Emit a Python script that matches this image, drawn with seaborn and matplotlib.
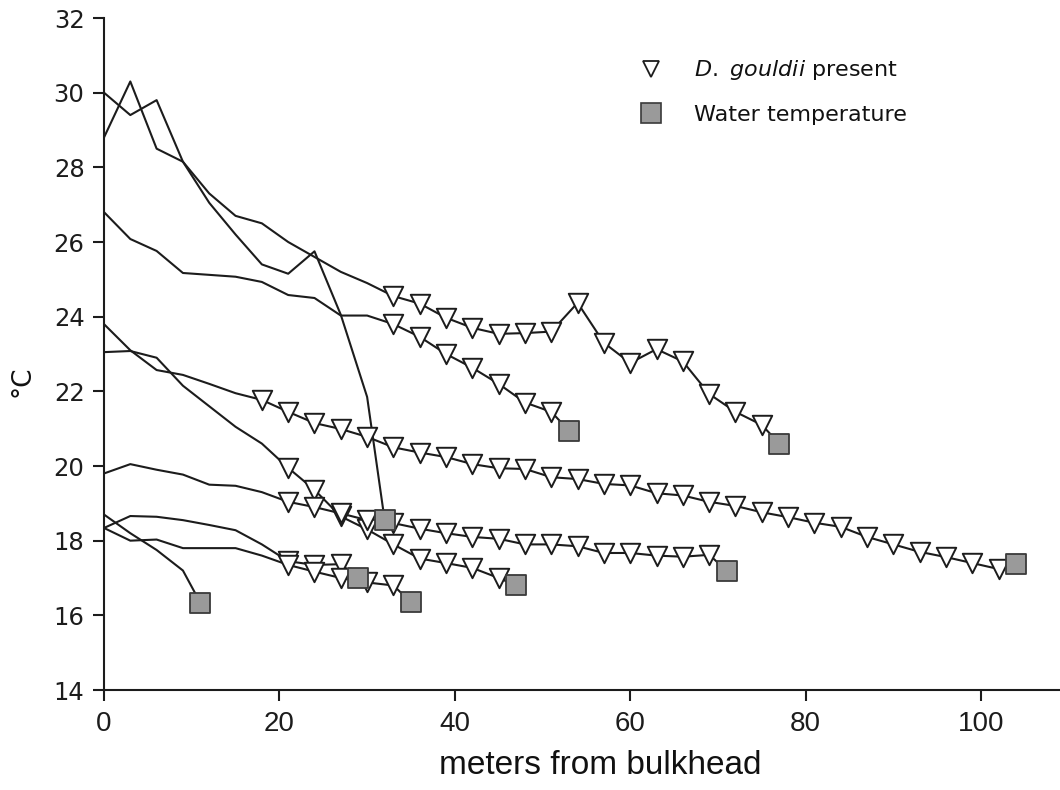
import numpy as np
import pandas as pd
import matplotlib
matplotlib.use("Agg")
import matplotlib.pyplot as plt
from matplotlib.lines import Line2D
import seaborn as sns

# Temperature profiles along transects (distance from bulkhead in m, temperature in °C).
# The last point of every transect is the water temperature reading.
dist_a = [0, 3, 6, 9, 12, 15, 18, 21, 24, 27, 30, 32]
temp_a = [30.0, 29.4, 29.8, 28.15, 27.05, 26.2, 25.4, 25.15, 25.75, 24.05, 21.85, 18.55]

dist_b = [0, 3, 6, 9, 12, 15, 18, 21, 24, 27, 30, 33, 36, 39, 42, 45, 48, 51, 54,
          57, 60, 63, 66, 69, 72, 75, 77]
temp_b = [28.8, 30.3, 28.5, 28.15, 27.3, 26.7, 26.5, 26.0, 25.6, 25.2, 24.9, 24.55,
          24.35, 23.97, 23.7, 23.54, 23.56, 23.6, 24.37, 23.3, 22.76, 23.13, 22.8,
          21.93, 21.45, 21.1, 20.6]

dist_c = [0, 3, 6, 9, 12, 15, 18, 21, 24, 27, 30, 33, 36, 39, 42, 45, 48, 51, 53]
temp_c = [26.8, 26.08, 25.76, 25.17, 25.12, 25.07, 24.93, 24.58, 24.5, 24.03, 24.03,
          23.8, 23.46, 23.0, 22.63, 22.2, 21.7, 21.45, 20.95]

dist_d = [0, 3, 6, 9, 12, 15, 18, 21, 24, 27, 30, 33, 36, 39, 42, 45, 47]
temp_d = [23.05, 23.08, 22.9, 22.15, 21.6, 21.05, 20.6, 19.95, 19.36, 18.65, 18.3,
          17.9, 17.52, 17.4, 17.27, 17.0, 16.8]

dist_e = [0, 3, 6, 9, 12, 15, 18, 21, 24, 27, 30, 33, 36, 39, 42, 45, 48, 51, 54,
          57, 60, 63, 66, 69, 72, 75, 78, 81, 84, 87, 90, 93, 96, 99, 102, 104]
temp_e = [23.8, 23.1, 22.57, 22.44, 22.2, 21.95, 21.77, 21.45, 21.15, 20.99, 20.78,
          20.5, 20.36, 20.24, 20.05, 19.94, 19.92, 19.7, 19.65, 19.52, 19.48, 19.27,
          19.21, 19.04, 18.93, 18.76, 18.63, 18.48, 18.37, 18.1, 17.9, 17.7, 17.56,
          17.4, 17.24, 17.37]

dist_f = [0, 3, 6, 9, 12, 15, 18, 21, 24, 27, 30, 33, 36, 39, 42, 45, 48, 51, 54,
          57, 60, 63, 66, 69, 71]
temp_f = [19.8, 20.05, 19.9, 19.77, 19.5, 19.47, 19.3, 19.04, 18.9, 18.73, 18.55,
          18.47, 18.32, 18.2, 18.1, 18.05, 17.9, 17.9, 17.85, 17.67, 17.67, 17.6,
          17.57, 17.62, 17.2]

dist_g = [0, 3, 6, 9, 11]
temp_g = [18.7, 18.2, 17.75, 17.2, 16.33]

dist_h = [0, 3, 6, 9, 12, 15, 18, 21, 24, 27, 29]
temp_h = [18.34, 18.66, 18.64, 18.55, 18.42, 18.28, 17.9, 17.45, 17.35, 17.37, 17.0]

dist_i = [0, 3, 6, 9, 12, 15, 18, 21, 24, 27, 30, 33, 35]
temp_i = [18.34, 18.0, 18.03, 17.8, 17.8, 17.8, 17.6, 17.35, 17.17, 17.0, 16.88, 16.8, 16.35]

# First distance at which D. gouldii was found on each transect (None = never)
present_from = {"A": None, "B": 33, "C": 33, "D": 21, "E": 18,
                "F": 21, "G": None, "H": 21, "I": 21}

transects = {
    "A": (dist_a, temp_a), "B": (dist_b, temp_b), "C": (dist_c, temp_c),
    "D": (dist_d, temp_d), "E": (dist_e, temp_e), "F": (dist_f, temp_f),
    "G": (dist_g, temp_g), "H": (dist_h, temp_h), "I": (dist_i, temp_i),
}

x_ticks = [0, 20, 40, 60, 80, 100]
y_ticks = [14, 16, 18, 20, 22, 24, 26, 28, 30, 32]

rows = []
for name, (d, t) in transects.items():
    start = present_from[name]
    n = len(d)
    for k, (xv, yv) in enumerate(zip(d, t)):
        if k == n - 1:
            kind = "water"
        elif start is not None and xv >= start:
            kind = "present"
        else:
            kind = "none"
        rows.append({"transect": name, "dist": xv, "temp": yv, "kind": kind})
df = pd.DataFrame(rows)

sns.set_theme(style="ticks")
plt.rcParams["font.family"] = ["DejaVu Sans"]
plt.rcParams["mathtext.fontset"] = "custom"
plt.rcParams["mathtext.it"] = "DejaVu Sans:italic"
plt.rcParams["mathtext.rm"] = "DejaVu Sans"

LINE = "#1c1c1c"
fig = plt.figure(figsize=(10.6, 7.9), dpi=100)
fig.patch.set_facecolor("white")
ax = fig.add_axes([104 / 1060, 100 / 790, 956 / 1060, 672 / 790])
ax.set_facecolor("white")

sns.lineplot(data=df, x="dist", y="temp", units="transect", estimator=None,
             sort=False, color=LINE, linewidth=1.5, ax=ax, zorder=2, legend=False)

pres = df[df["kind"] == "present"]
water = df[df["kind"] == "water"]
sns.scatterplot(data=pres, x="dist", y="temp", marker="v", s=14 ** 2,
                facecolor="white", edgecolor=LINE, linewidth=1.4, ax=ax,
                zorder=3, legend=False)
sns.scatterplot(data=water, x="dist", y="temp", marker="s", s=15 ** 2,
                facecolor="#9a9a9a", edgecolor="#3a3a3a", linewidth=1.3, ax=ax,
                zorder=4, legend=False)

ax.set_xlim(0, 109)
ax.set_ylim(14, 32)
ax.set_xticks(x_ticks)
ax.set_yticks(y_ticks)
ax.set_xticklabels([str(v) for v in x_ticks],
                   family=["Liberation Sans Narrow", "Liberation Sans"], fontsize=20)
ax.set_yticklabels([str(v) for v in y_ticks], fontsize=17.5)
ax.tick_params(axis="both", direction="out", length=8, width=1.5, colors=LINE)
ax.tick_params(axis="x", pad=7)
ax.tick_params(axis="y", pad=6)
for s in ("top", "right"):
    ax.spines[s].set_visible(False)
for s in ("left", "bottom"):
    ax.spines[s].set_linewidth(1.5)
    ax.spines[s].set_color(LINE)

ax.set_xlabel("meters from bulkhead",
              family=["Liberation Sans Narrow", "Liberation Sans"], fontsize=24,
              color="#111111")
ax.xaxis.set_label_coords(0.519, -0.09)
ax.set_ylabel("°C", fontsize=19, color="#111111")
ax.yaxis.set_label_coords(-0.072, 0.46)

handles = [
    Line2D([], [], linestyle="none", marker="v", markersize=11,
           markerfacecolor="white", markeredgecolor=LINE, markeredgewidth=1.3),
    Line2D([], [], linestyle="none", marker="s", markersize=14,
           markerfacecolor="#9a9a9a", markeredgecolor="#3a3a3a", markeredgewidth=1.2),
]
labels = [r"$\mathit{D.\ gouldii}$ present", "Water temperature"]
leg = ax.legend(handles, labels, loc="upper left", bbox_to_anchor=(0.54, 0.953),
                frameon=False, fontsize=16, handletextpad=0.9, labelspacing=1.0,
                borderaxespad=0)
for t in leg.get_texts():
    t.set_color("#111111")

sns.despine(ax=ax)
fig.savefig("out.png", dpi=100, facecolor="white")
